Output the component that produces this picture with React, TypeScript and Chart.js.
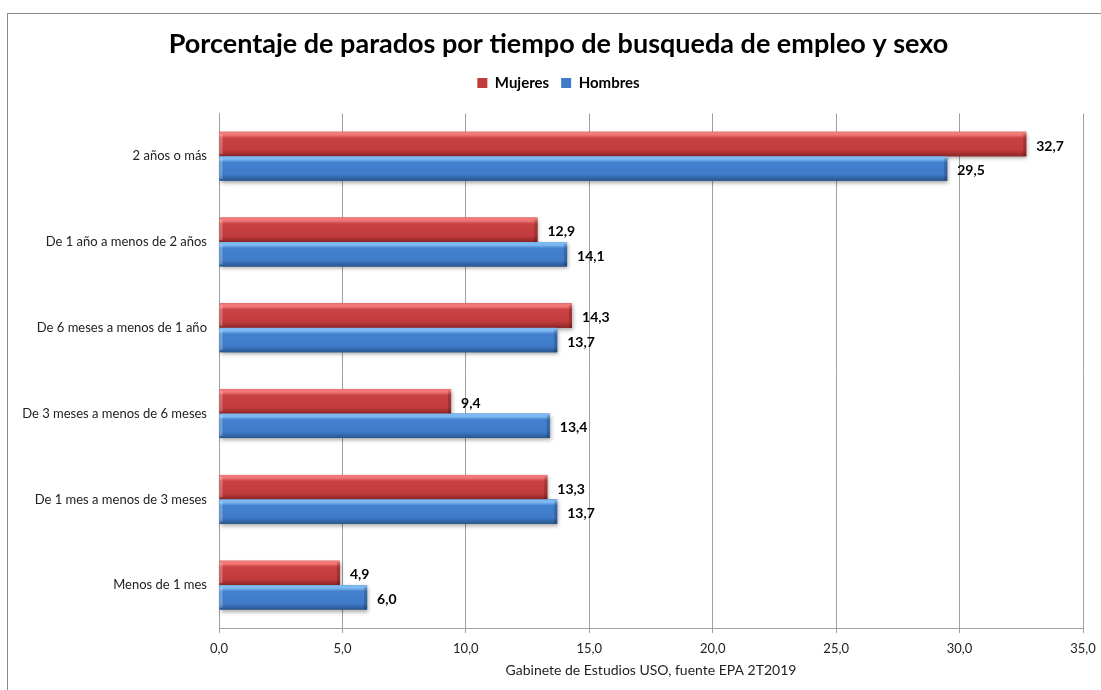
import React, { useEffect, useRef } from 'react';
import { Chart, registerables } from 'chart.js';

Chart.register(...registerables);

const categories = [
  '2 años o más',
  'De 1 año a menos de 2 años',
  'De 6 meses a menos de 1 año',
  'De 3 meses a menos de 6 meses',
  'De 1 mes a menos de 3 meses',
  'Menos de 1 mes',
];
const mujeres = [32.7, 12.9, 14.3, 9.4, 13.3, 4.9];
const hombres = [29.5, 14.1, 13.7, 13.4, 13.7, 6.0];
const seriesNames = ['Mujeres', 'Hombres'];
const titleText = 'Porcentaje de parados por tiempo de busqueda de empleo y sexo';
const axisTitle = 'Gabinete de Estudios USO, fuente EPA 2T2019';

const FONT = 'Lato, "Open Sans", sans-serif';
const PAD_LEFT = 16;

const palettes = [
  { base: '#c13b3c', light: '#f27878', mid: '#c94344', dark: '#8e2526' },
  { base: '#3f7bc8', light: '#7fb9f2', mid: '#4381cf', dark: '#27568f' },
];

const fmt = (v: number) => v.toFixed(1).replace('.', ',');

const frame = {
  id: 'frame',
  beforeDraw(chart: any) {
    const ctx = chart.ctx;
    ctx.save();
    ctx.fillStyle = '#ffffff';
    ctx.fillRect(0, 0, chart.width, chart.height);
    ctx.strokeStyle = '#8a8a8a';
    ctx.lineWidth = 1;
    ctx.strokeRect(7.5, 13.5, chart.width + 20, chart.height + 20);
    ctx.restore();
  },
};

const barStyle = {
  id: 'barStyle',
  afterDatasetsDraw(chart: any) {
    const ctx = chart.ctx;
    chart.data.datasets.forEach((ds: any, di: number) => {
      const meta = chart.getDatasetMeta(di);
      const p = palettes[di];
      meta.data.forEach((el: any) => {
        const { x, y, base, height } = el.getProps(['x', 'y', 'base', 'height'], true);
        const top = y - height / 2;
        const bottom = y + height / 2;
        const g = ctx.createLinearGradient(0, top, 0, bottom);
        g.addColorStop(0, p.light);
        g.addColorStop(0.12, p.light);
        g.addColorStop(0.25, p.mid);
        g.addColorStop(0.75, p.base);
        g.addColorStop(1, p.dark);
        ctx.save();
        ctx.shadowColor = 'rgba(0,0,0,0.35)';
        ctx.shadowBlur = 4;
        ctx.shadowOffsetX = 1;
        ctx.shadowOffsetY = 2;
        ctx.fillStyle = g;
        ctx.fillRect(base, top, x - base, height);
        ctx.restore();
        ctx.save();
        ctx.fillStyle = 'rgba(0,0,0,0.18)';
        ctx.fillRect(x - 3, top + 2, 3, height - 2);
        ctx.fillStyle = 'rgba(255,255,255,0.25)';
        ctx.fillRect(base, top + 2, 3, height - 4);
        ctx.restore();
      });
    });
    // data labels
    ctx.save();
    ctx.font = `bold 14px ${FONT}`;
    ctx.fillStyle = '#000';
    ctx.textAlign = 'left';
    ctx.textBaseline = 'middle';
    chart.data.datasets.forEach((ds: any, di: number) => {
      const meta = chart.getDatasetMeta(di);
      meta.data.forEach((el: any, i: number) => {
        const { x, y } = el.getProps(['x', 'y'], true);
        ctx.fillText(fmt(ds.data[i]), x + 10, y + 2);
      });
    });
    ctx.restore();
  },
};

export default function App() {
  const ref = useRef<HTMLCanvasElement>(null);
  useEffect(() => {
    if (!ref.current) return;
    const chart = new Chart(ref.current, {
      type: 'bar',
      data: {
        labels: categories,
        datasets: [
          { label: seriesNames[0], data: mujeres, backgroundColor: palettes[0].base, borderWidth: 0 },
          { label: seriesNames[1], data: hombres, backgroundColor: palettes[1].base, borderWidth: 0 },
        ],
      },
      options: {
        indexAxis: 'y',
        responsive: false,
        animation: false,
        events: [],
        layout: { padding: { left: PAD_LEFT, right: 0, top: 0, bottom: 0 } },
        datasets: { bar: { categoryPercentage: 0.57, barPercentage: 1 } },
        scales: {
          x: {
            min: 0,
            max: 35,
            ticks: {
              stepSize: 5,
              padding: 8,
              color: '#222',
              font: { family: FONT, size: 13 },
              callback: (v: any) => fmt(Number(v)),
            },
            grid: { color: '#a0a0a0', tickLength: 5, drawOnChartArea: true },
            border: { display: true, color: '#a0a0a0' },
            title: {
              display: true,
              text: axisTitle,
              color: '#222',
              font: { family: FONT, size: 14 },
              padding: { top: 4, bottom: 11 },
            },
            afterFit: (s: any) => {
              s.height = 62;
              s.paddingRight = 18;
            },
          },
          y: {
            ticks: { padding: 12, color: '#222', font: { family: FONT, size: 13 } },
            grid: { drawOnChartArea: false, drawTicks: false },
            border: { display: true, color: '#a0a0a0' },
            afterFit: (s: any) => {
              s.width = 219 - PAD_LEFT;
            },
          },
        },
        plugins: {
          title: {
            display: true,
            text: titleText,
            color: '#000',
            font: { family: FONT, size: 27, weight: 'bold' },
            padding: { top: 28, bottom: 3 },
          },
          subtitle: {
            display: true,
            text: ' ',
            position: 'top',
            weight: 500,
            font: { size: 10 },
            padding: { top: 0, bottom: 1 },
          },
          legend: {
            display: true,
            position: 'top',
            labels: {
              boxWidth: 10,
              boxHeight: 10,
              padding: 12,
              color: '#000',
              font: { family: FONT, size: 15, weight: 'bold' },
            },
          },
          tooltip: { enabled: false },
        },
      },
      plugins: [frame, barStyle],
    });
    return () => chart.destroy();
  }, []);
  return (
    <div style={{ position: 'fixed', left: 0, top: 0, width: 1101, height: 690, background: '#fff' }}>
      <canvas ref={ref} width={1101} height={690} style={{ display: 'block' }} />
    </div>
  );
}
